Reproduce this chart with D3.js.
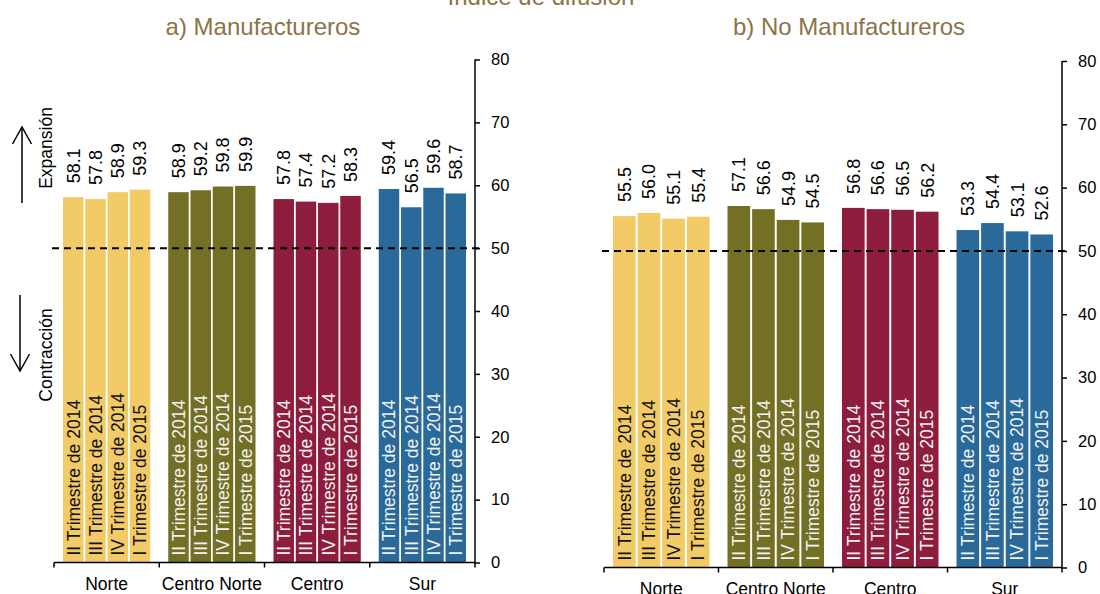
<!DOCTYPE html>
<html>
<head>
<meta charset="utf-8">
<script src="https://cdn.jsdelivr.net/npm/d3@7"></script>
<style>
  html, body { margin: 0; padding: 0; background: #fff; }
  svg { display: block; font-family: "Liberation Sans", Arial, sans-serif; }
</style>
</head>
<body>
<svg id="chart" width="1100" height="594"></svg>
<script>
// ---- Data ----
const regions = ["Norte", "Centro Norte", "Centro", "Sur"];
const quarters = ["II Trimestre de 2014", "III Trimestre de 2014", "IV Trimestre de 2014", "I Trimestre de 2015"];
const manufValues = [
  [58.1, 57.8, 58.9, 59.3],
  [58.9, 59.2, 59.8, 59.9],
  [57.8, 57.4, 57.2, 58.3],
  [59.4, 56.5, 59.6, 58.7]
];
const noManufValues = [
  [55.5, 56.0, 55.1, 55.4],
  [57.1, 56.6, 54.9, 54.5],
  [56.8, 56.6, 56.5, 56.2],
  [53.3, 54.4, 53.1, 52.6]
];
const yTicks = [0, 10, 20, 30, 40, 50, 60, 70, 80];
const threshold = 50;
const mainTitle = "Índice de difusión";
const panelTitles = ["a) Manufactureros", "b) No Manufactureros"];

// ---- Styles ----
const regionColors = ["#F2CA66", "#737025", "#8D1C3D", "#2A6A9A"];
const labelColors = ["#111111", "#F2F2F2", "#F2F2F2", "#F2F2F2"];
const titleColor = "#8B7448";

const svg = d3.select("#chart");

svg.append("text")
  .attr("x", 541).attr("y", 5)
  .attr("text-anchor", "middle")
  .attr("fill", titleColor)
  .style("font-size", "24px")
  .text(mainTitle);

function drawPanel(cfg) {
  const g = svg.append("g");
  const x0 = d3.scaleBand().domain(regions).range([cfg.x0, cfg.x1]).padding(0);
  const bw = x0.bandwidth();
  const x1 = d3.scaleBand().domain(quarters).range([9, bw - 9]).paddingInner(0.08);
  const y = d3.scaleLinear().domain([0, 80]).range([cfg.yBottom, cfg.yTop]);

  // title
  g.append("text")
    .attr("x", cfg.titleX).attr("y", 35)
    .attr("text-anchor", "middle")
    .attr("fill", titleColor)
    .style("font-size", "24px")
    .text(cfg.title);

  // bars
  const groups = g.selectAll("g.region")
    .data(regions.map((r, i) => ({ region: r, idx: i, values: cfg.values[i] })))
    .join("g")
    .attr("class", "region")
    .attr("transform", d => `translate(${x0(d.region)},0)`);

  const bars = groups.selectAll("g.bar")
    .data(d => d.values.map((v, j) => ({ v, q: quarters[j], idx: d.idx })))
    .join("g").attr("class", "bar");

  bars.append("rect")
    .attr("x", d => x1(d.q))
    .attr("width", x1.bandwidth())
    .attr("y", d => y(d.v))
    .attr("height", d => y(0) - y(d.v))
    .attr("fill", d => regionColors[d.idx]);

  // inside labels
  bars.append("text")
    .attr("transform", d => `translate(${x1(d.q) + x1.bandwidth() / 2},${y(0) - 7}) rotate(-90)`)
    .attr("dy", "0.36em")
    .attr("text-anchor", "start")
    .attr("fill", d => labelColors[d.idx])
    .style("font-size", "17.5px")
    .text(d => d.q);

  // value labels
  bars.append("text")
    .attr("transform", d => `translate(${x1(d.q) + x1.bandwidth() / 2},${y(d.v) - 14}) rotate(-90)`)
    .attr("dy", "0.36em")
    .attr("text-anchor", "start")
    .attr("fill", "#000")
    .style("font-size", "18px")
    .text(d => d.v.toFixed(1));

  // threshold dashed line
  g.append("line")
    .attr("x1", cfg.x0 - 2).attr("x2", cfg.x1 + 4)
    .attr("y1", y(threshold)).attr("y2", y(threshold))
    .attr("stroke", "#000").attr("stroke-width", 2)
    .attr("stroke-dasharray", "7,5");

  // bottom axis
  const xb = g.append("g").attr("transform", `translate(0,${y(0)})`);
  xb.append("line").attr("x1", cfg.x0).attr("x2", cfg.x1).attr("stroke", "#000").attr("stroke-width", 1.5);
  const bounds = regions.map(r => x0(r)).concat([cfg.x1]);
  xb.selectAll("line.tk").data(bounds).join("line").attr("class", "tk")
    .attr("x1", d => d).attr("x2", d => d).attr("y1", 0).attr("y2", 5)
    .attr("stroke", "#000").attr("stroke-width", 1.5);
  xb.selectAll("text.cat").data(regions).join("text").attr("class", "cat")
    .attr("x", d => x0(d) + bw / 2)
    .attr("y", cfg.catY - y(0))
    .attr("text-anchor", "middle")
    .attr("fill", "#000")
    .style("font-size", "17.5px")
    .text(d => d);

  // right y axis
  const ya = g.append("g")
    .attr("transform", `translate(${cfg.x1},0)`)
    .call(d3.axisRight(y).tickValues(yTicks).tickSize(5).tickPadding(11).tickFormat(d3.format("d")));
  ya.select(".domain").attr("stroke", "#000").attr("stroke-width", 1.5)
    .attr("d", `M0,${y(80)}V${y(0)}`);
  ya.selectAll(".tick line").attr("stroke", "#000").attr("stroke-width", 1.5);
  ya.selectAll(".tick text").attr("fill", "#000")
    .style("font-size", "16.5px").style("font-family", '"Liberation Sans", Arial, sans-serif');
}

drawPanel({ x0: 54, x1: 475, yBottom: 562.5, yTop: 59.5, values: manufValues, title: panelTitles[0], titleX: 263, catY: 590 });
drawPanel({ x0: 604, x1: 1062, yBottom: 567.5, yTop: 61, values: noManufValues, title: panelTitles[1], titleX: 849, catY: 595 });

// Expansion / contraction annotations
const ann = svg.append("g");
function arrow(xp, yFrom, yTo) {
  const dir = yTo < yFrom ? 1 : -1;
  ann.append("line").attr("x1", xp).attr("x2", xp).attr("y1", yFrom).attr("y2", yTo)
    .attr("stroke", "#000").attr("stroke-width", 1.5);
  ann.append("path")
    .attr("d", `M${xp - 9.5},${yTo + dir * 17}L${xp},${yTo}L${xp + 9.5},${yTo + dir * 17}`)
    .attr("fill", "none").attr("stroke", "#000").attr("stroke-width", 1.5);
}
arrow(22, 203, 127);
arrow(20, 295, 371);
ann.append("text")
  .attr("transform", "translate(46,148) rotate(-90)")
  .attr("dy", "0.36em").attr("text-anchor", "middle")
  .style("font-size", "17.5px").attr("fill", "#000")
  .text("Expansión");
ann.append("text")
  .attr("transform", "translate(46,355) rotate(-90)")
  .attr("dy", "0.36em").attr("text-anchor", "middle")
  .style("font-size", "17.5px").attr("fill", "#000")
  .text("Contracción");
</script>
</body>
</html>
